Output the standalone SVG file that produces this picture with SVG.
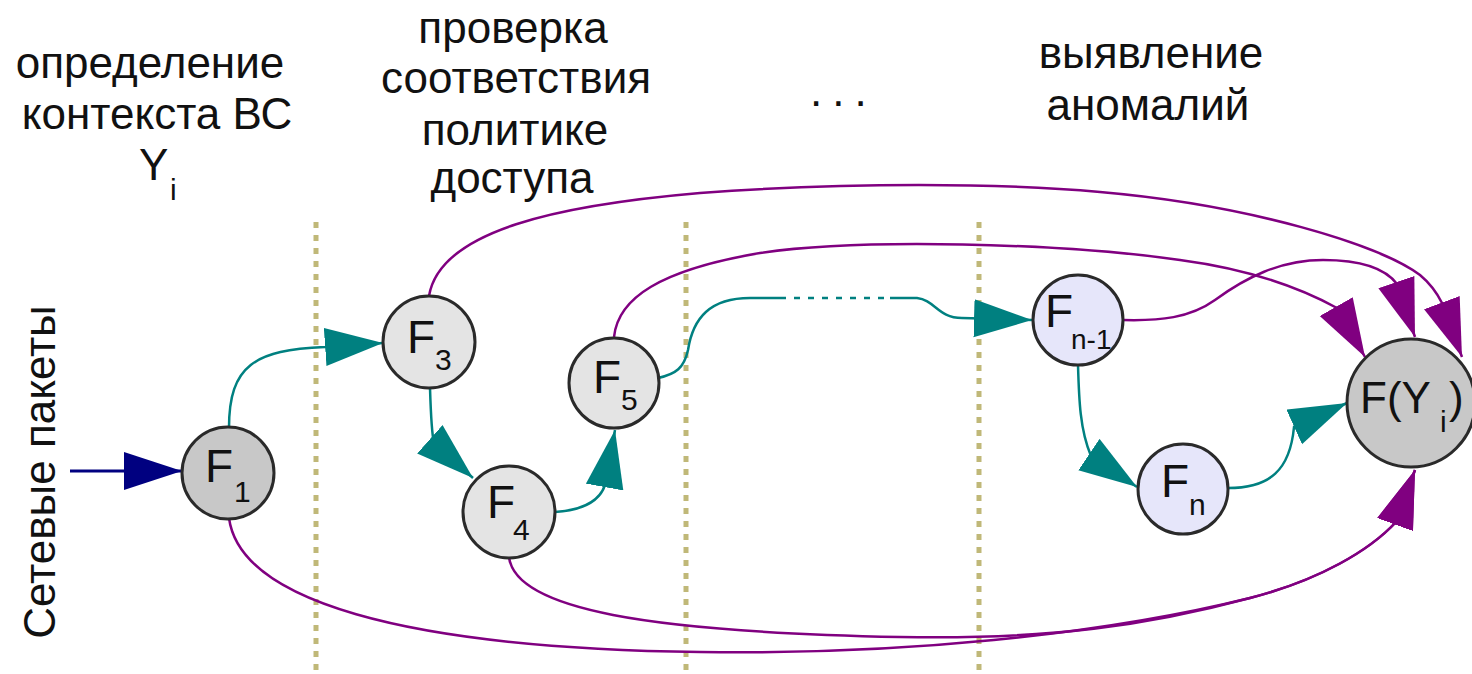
<svg xmlns="http://www.w3.org/2000/svg" width="1472" height="674" viewBox="0 0 1472 674">
<style>
text{font-family:"Liberation Sans",Arial,sans-serif;fill:#111}
.lbl{font-size:44px;text-anchor:middle}
.f{font-size:46px}
.s{font-size:30px}
.node{stroke:#2a2a2a;stroke-width:3}
.gray{fill:#c8c8c8}
.light{fill:#e4e4e4}
.lav{fill:#e6e6fa}
.sep{stroke:#c0b878;stroke-width:5;stroke-dasharray:6 7;fill:none}
.teal{stroke:#008080;stroke-width:2.5;fill:none}
.purple{stroke:#800080;stroke-width:2.5;fill:none}
.navy{stroke:#000080;stroke-width:3;fill:none}
</style>
<defs>
<marker id="aT" markerUnits="userSpaceOnUse" markerWidth="60" markerHeight="40" refX="58" refY="19" orient="auto"><path d="M0,0 L58,19 L0,38 z" fill="#008080"/></marker>
<marker id="aP" markerUnits="userSpaceOnUse" markerWidth="60" markerHeight="40" refX="58" refY="19" orient="auto"><path d="M0,0 L58,19 L0,38 z" fill="#800080"/></marker>
<marker id="aN" markerUnits="userSpaceOnUse" markerWidth="60" markerHeight="40" refX="58" refY="19" orient="auto"><path d="M0,0 L58,19 L0,38 z" fill="#000080"/></marker>
</defs>
<rect width="1472" height="674" fill="#fff"/>

<g id="separators">
<line class="sep" x1="316" y1="222" x2="316" y2="674"/>
<line class="sep" x1="686" y1="222" x2="686" y2="674"/>
<line class="sep" x1="979" y1="222" x2="979" y2="674"/>
</g>

<g id="headers">
<text class="lbl" x="150" y="78">определение</text>
<text class="lbl" x="157" y="129">контекста ВС</text>
<text x="139" y="180" style="font-size:44px">Y</text>
<text class="s" x="170" y="200">i</text>
<text class="lbl" x="513" y="43">проверка</text>
<text class="lbl" x="516" y="93">соответствия</text>
<text class="lbl" x="515" y="145">политике</text>
<text class="lbl" x="512" y="193">доступа</text>
<text x="810" y="106" style="font-size:44px" letter-spacing="10">...</text>
<text class="lbl" x="1151" y="68">выявление</text>
<text class="lbl" x="1148" y="120">аномалий</text>
<text class="lbl" transform="translate(55,472) rotate(-90)" x="0" y="0">Сетевые пакеты</text>
</g>

<g id="connectors">
<path class="navy" d="M70,471 L182,471" marker-end="url(#aN)"/>
<path class="teal" d="M229,428 C229,365 255,350 325,347 L383,343" marker-end="url(#aT)"/>
<path class="teal" d="M430,388 C431,420 432,435 434,443 L473,478" marker-end="url(#aT)"/>
<path class="teal" d="M555,512 C585,510 600,500 605,485 L615,430" marker-end="url(#aT)"/>
<path class="teal" d="M658,378 C676,374 684,368 688,350 C693,318 710,298 750,298 L780,298"/>
<path class="teal" d="M780,298 L890,298" stroke-dasharray="6 8"/>
<path class="teal" d="M890,298 L917,298 C935,300 938,318 962,318 L1032,320" marker-end="url(#aT)"/>
<path class="teal" d="M1078,365 C1079,400 1080,430 1091,456 L1137,487" marker-end="url(#aT)"/>
<path class="teal" d="M1228,488 C1270,488 1290,470 1294,427 L1347,403" marker-end="url(#aT)"/>
<path class="purple" d="M429,296 C440,230 560,205 700,193 C850,182 1000,183 1100,192 C1250,205 1380,245 1420,275 C1432,285 1438,295 1442,303 L1462,357" marker-end="url(#aP)"/>
<path class="purple" d="M614,337 C618,298 660,270 760,253 C860,238 1060,243 1180,260 C1240,268 1295,285 1337,308 L1365,357" marker-end="url(#aP)"/>
<path class="purple" d="M1123,320 C1160,321 1190,318 1215,300 C1245,278 1280,260 1323,260 C1360,260 1385,268 1397,284 L1415,337" marker-end="url(#aP)"/>
<path class="purple" d="M229,518 C240,600 400,648 700,652 C900,655 1100,635 1250,598 C1320,580 1370,550 1396,522 L1415,470" marker-end="url(#aP)"/>
<path class="purple" d="M509,557 C515,610 650,632 900,637 C1050,640 1150,625 1250,598 C1320,580 1370,550 1396,522 L1415,470" marker-end="url(#aP)"/>
</g>

<g id="F1"><circle class="node gray" cx="228" cy="473" r="46"/><text class="f" x="205" y="482">F<tspan class="s" x="234" y="502">1</tspan></text></g>
<g id="F3"><circle class="node light" cx="429" cy="342" r="46"/><text class="f" x="407" y="353">F<tspan class="s" x="435" y="370">3</tspan></text></g>
<g id="F4"><circle class="node light" cx="509" cy="512" r="46"/><text class="f" x="487" y="518">F<tspan class="s" x="513" y="540">4</tspan></text></g>
<g id="F5"><circle class="node light" cx="614" cy="383" r="45"/><text class="f" x="593" y="393">F<tspan class="s" x="621" y="410">5</tspan></text></g>
<g id="Fn-1"><circle class="node lav" cx="1078" cy="320" r="45"/><text class="f" x="1045" y="327">F<tspan style="font-size:28px" x="1071" y="349">n-1</tspan></text></g>
<g id="Fn"><circle class="node lav" cx="1183" cy="489" r="45"/><text class="f" x="1161" y="497">F<tspan class="s" x="1189" y="515">n</tspan></text></g>
<g id="FYi"><circle class="node gray" cx="1411" cy="403" r="64"/><text class="f" x="1360" y="413" style="font-size:44px">F(Y<tspan class="s" x="1440" y="432">i</tspan><tspan x="1449" y="413">)</tspan></text></g>
</svg>
